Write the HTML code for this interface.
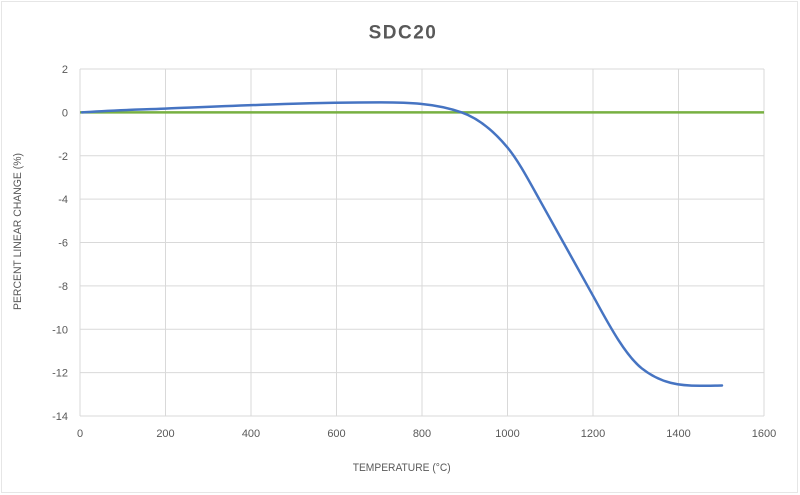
<!DOCTYPE html>
<html>
<head>
<meta charset="utf-8">
<style>
  html,body{margin:0;padding:0;background:#fff;}
  svg{display:block;}
  text{font-family:"Liberation Sans",sans-serif;}
</style>
</head>
<body>
<svg width="800" height="495" viewBox="0 0 800 495" xmlns="http://www.w3.org/2000/svg">
  <rect x="0" y="0" width="800" height="495" fill="#fff"/>
  <rect x="1.5" y="1.5" width="796" height="491" fill="none" stroke="#e6e6e6" stroke-width="1"/>

  <!-- title -->
  <text x="403" y="38.5" text-anchor="middle" font-size="19" font-weight="bold" fill="#595959" letter-spacing="1.5">SDC20</text>

  <!-- gridlines -->
  <g stroke="#d9d9d9" stroke-width="1" fill="none">
    <line x1="80" y1="69" x2="764" y2="69"/>
    <line x1="80" y1="155.8" x2="764" y2="155.8"/>
    <line x1="80" y1="199.1" x2="764" y2="199.1"/>
    <line x1="80" y1="242.5" x2="764" y2="242.5"/>
    <line x1="80" y1="285.9" x2="764" y2="285.9"/>
    <line x1="80" y1="329.3" x2="764" y2="329.3"/>
    <line x1="80" y1="372.6" x2="764" y2="372.6"/>
    <line x1="80" y1="416" x2="764" y2="416"/>
    <line x1="80" y1="69" x2="80" y2="416"/>
    <line x1="165.5" y1="69" x2="165.5" y2="416"/>
    <line x1="251" y1="69" x2="251" y2="416"/>
    <line x1="336.5" y1="69" x2="336.5" y2="416"/>
    <line x1="422" y1="69" x2="422" y2="416"/>
    <line x1="507.5" y1="69" x2="507.5" y2="416"/>
    <line x1="593" y1="69" x2="593" y2="416"/>
    <line x1="678.5" y1="69" x2="678.5" y2="416"/>
    <line x1="764" y1="69" x2="764" y2="416"/>
  </g>

  <!-- y tick labels -->
  <g font-size="11" fill="#595959" text-anchor="end">
    <text x="68" y="73">2</text>
    <text x="68" y="116.4">0</text>
    <text x="68" y="159.8">-2</text>
    <text x="68" y="203.1">-4</text>
    <text x="68" y="246.5">-6</text>
    <text x="68" y="289.9">-8</text>
    <text x="68" y="333.3">-10</text>
    <text x="68" y="376.6">-12</text>
    <text x="68" y="420">-14</text>
  </g>

  <!-- x tick labels -->
  <g font-size="11" fill="#595959" text-anchor="middle">
    <text x="80" y="437">0</text>
    <text x="165.5" y="437">200</text>
    <text x="251" y="437">400</text>
    <text x="336.5" y="437">600</text>
    <text x="422" y="437">800</text>
    <text x="507.5" y="437">1000</text>
    <text x="593" y="437">1200</text>
    <text x="678.5" y="437">1400</text>
    <text x="764" y="437">1600</text>
  </g>

  <!-- axis titles -->
  <text x="352.7" y="471" font-size="11" fill="#595959" textLength="98" lengthAdjust="spacingAndGlyphs">TEMPERATURE (°C)</text>
  <text transform="translate(21,310) rotate(-90)" x="0" y="0" font-size="11" fill="#595959" textLength="157" lengthAdjust="spacingAndGlyphs">PERCENT LINEAR CHANGE (%)</text>

  <!-- green baseline series -->
  <line x1="80" y1="112.4" x2="764" y2="112.4" stroke="#78b042" stroke-width="2.5"/>

  <!-- blue series (smooth) -->
  <path fill="none" stroke="#4674c2" stroke-width="2.5" stroke-linejoin="round" stroke-linecap="round"
    d="M82,112.4
       C109.7,110.2 137.3,109.7 165,108.6
       C236.7,105.7 308.3,102.4 380,102.4
       C407.2,102.4 434.5,102.9 461.7,112.4
       C476.9,117.7 492.1,129.1 507.3,147.3
       C518,160.1 528.6,180.1 539.3,199.3
       C557.9,232.6 576.4,266 595,299.3
       C610.6,328.1 626.1,355.8 641.7,368.3
       C661.1,383.8 680.6,385.8 700,385.8
       C707,385.8 715,385.6 722,385.5"/>
</svg>
</body>
</html>
